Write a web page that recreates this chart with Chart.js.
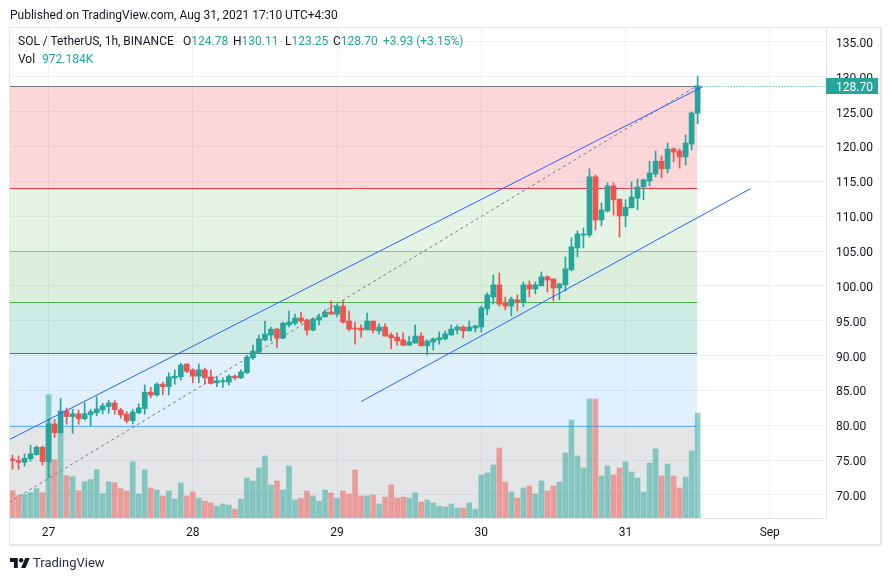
<!DOCTYPE html>
<html>
<head>
<meta charset="utf-8">
<script src="https://cdn.jsdelivr.net/npm/chart.js@4.4.0/dist/chart.umd.min.js"></script>
<style>
  body { margin: 0; width: 892px; height: 581px; background: #fff; position: relative; overflow: hidden;
         font-family: Roboto, sans-serif; color: #131722; }
  #frame { position: absolute; left: 9px; top: 27px; width: 873px; height: 519px; box-sizing: border-box;
           border-style: solid; border-color: #e6e7ec; border-width: 1px 2px 2px 1px; }
  canvas { position: absolute; left: 0; top: 0; }
  .t { position: absolute; font-size: 12px; line-height: 14px; white-space: pre; }
  .v { color: #26a69a; }
  #logo { position: absolute; left: 10px; top: 556px; font-size: 13px; line-height: 14px; color: #2a2e39; }
  #logo svg { position: absolute; left: 0; top: 2px; }
  #logo span { position: absolute; left: 23px; top: 0; white-space: pre; }
</style>
</head>
<body>
<div id="frame"></div>
<canvas id="chart" width="892" height="581"></canvas>
<div class="t" style="left:10px; top:8px">Published on TradingView.com, Aug 31, 2021 17:10 UTC+4:30</div>
<div class="t" style="left:18px; top:34px">SOL / TetherUS, 1h, BINANCE</div>
<div class="t" style="left:183px; top:34px">O<span class="v">124.78</span></div>
<div class="t" style="left:233px; top:34px">H<span class="v">130.11</span></div>
<div class="t" style="left:285px; top:34px">L<span class="v">123.25</span></div>
<div class="t" style="left:333px; top:34px">C<span class="v">128.70</span></div>
<div class="t v" style="left:383px; top:34px">+3.93 (+3.15%)</div>
<div class="t" style="left:18px; top:52px">Vol</div>
<div class="t v" style="left:42px; top:52px">972.184K</div>
<div id="logo">
  <svg width="20" height="10" viewBox="0 4 36 18"><path fill="#131722" d="M14 22H7V11H0V4h14v18zM28 22h-8l7.5-18h8L28 22z"/><circle fill="#131722" cx="20" cy="8" r="4"/></svg>
  <span>TradingView</span>
</div>
<script>
// SOL/USDT 1h, Aug 26 18:00 -> Aug 31 12:00
const opens = [75.15,74.95,74.7,75.2,75.8,76.85,74.8,80.2,78.95,82.05,
  81.25,81.65,80.95,81.55,81.8,82.2,82.7,83.2,82.2,81.6,
  80.65,81.8,82.4,84.75,84.35,85.9,85.55,86.8,86.95,88.8,
  87.95,87.05,87.95,86.95,86.1,86.25,86.2,87.05,86.8,87.55,
  89.65,90.5,92.25,92.95,93.8,92.5,94.4,94.65,95.4,95.1,
  93.65,95.1,95.55,96.25,95.95,97.1,94.95,93.95,93.95,93.7,
  94.95,93.55,94.1,92.95,92.65,92.25,91.5,91.8,92.8,91.4,
  91.95,92.25,92.4,92.95,93.7,94.1,93.55,93.95,94.1,96.7,
  98.4,100.15,97.55,97.1,98.0,97.7,100.15,99.55,100.0,101.3,
  101.0,99.7,100.15,102.3,105.45,107.3,107.3,115.65,109.45,110.75,
  114.35,112.45,110.05,111.2,112.6,114.2,115.05,116.05,117.9,116.8,
  119.65,119.35,118.5,120.35,124.78];
const highs = [75.7,75.6,75.9,77.15,77.05,77.05,80.95,80.85,83.85,82.45,
  82.3,82.2,83.25,82.3,84.1,83.15,83.6,83.55,82.45,81.95,
  82.3,83.05,85.8,85.45,86.1,86.2,87.55,87.95,88.9,88.8,
  88.1,88.8,88.2,87.95,87.05,86.8,87.25,87.25,87.95,90.05,
  91.5,92.95,94.95,94.1,93.95,94.8,96.4,95.95,96.25,95.25,
  95.4,95.95,96.55,97.85,97.4,97.85,96.4,94.8,94.4,96.1,
  94.95,94.55,94.55,93.25,93.25,93.25,92.8,94.4,93.25,92.25,
  92.55,93.4,93.55,94.4,94.4,94.25,94.95,94.4,97.1,99.0,
  101.55,101.85,98.4,98.4,98.7,100.55,100.7,100.55,102.0,101.45,
  101.0,100.4,104.15,106.9,107.9,108.3,116.8,115.9,111.9,114.8,
  114.8,112.45,112.35,114.9,115.35,115.35,117.9,119.35,118.65,120.5,
  119.8,119.65,121.65,124.95,130.11];
const lows = [73.7,73.7,74.15,74.85,75.7,74.3,72.5,78.25,78.85,80.15,
  78.85,80.15,80.75,79.9,81.35,81.6,81.7,81.6,81.0,80.35,
  80.2,81.6,81.6,83.95,84.2,84.35,84.35,85.9,86.5,87.55,
  86.1,86.1,85.9,85.9,85.55,85.45,85.75,86.5,86.7,87.45,
  89.45,90.3,92.15,92.1,91.1,92.4,94.1,94.4,94.65,92.95,
  93.55,94.4,95.55,95.95,95.55,94.65,93.55,91.65,92.65,93.65,
  93.25,93.1,92.8,90.95,91.5,91.4,91.5,91.8,91.4,90.1,
  90.8,91.65,92.25,92.95,93.1,92.55,93.55,93.4,93.4,95.85,
  97.4,97.1,96.55,95.7,96.4,97.0,98.4,98.85,100.0,99.15,
  97.85,98.0,99.25,102.15,104.15,105.45,107.0,108.0,108.6,110.6,
  110.15,107.0,108.45,111.2,110.9,112.35,114.35,115.65,115.5,116.2,
  117.8,116.9,117.35,119.5,123.25];
const closes = [74.95,74.7,75.25,75.9,76.85,74.8,80.2,78.95,82.05,81.25,
  81.65,80.95,81.65,81.95,82.35,82.8,83.2,82.25,81.5,80.65,
  81.9,82.5,84.75,84.35,85.9,85.55,86.95,87.05,88.65,87.75,
  87.05,87.95,86.8,86.0,86.4,86.4,87.05,86.8,87.65,89.8,
  90.65,92.4,93.1,93.8,92.5,94.65,94.8,95.4,94.95,93.65,
  95.25,95.55,96.25,95.95,97.1,94.8,93.8,93.8,93.65,94.95,
  93.65,94.1,92.8,92.55,92.1,91.5,91.95,92.8,91.4,92.1,
  92.4,92.55,93.1,93.8,94.1,93.55,94.1,94.25,96.85,98.7,
  100.15,97.4,97.1,98.1,97.7,100.15,99.55,100.15,101.3,100.85,
  99.7,100.3,102.45,105.6,107.45,107.45,115.65,109.45,110.9,114.35,
  112.35,110.05,111.3,112.75,114.2,115.2,116.2,117.9,116.8,119.65,
  119.2,118.5,120.5,124.8,128.70];
// volume in thousands
const volumes = [253,207,216,235,272,235,1142,540,793,392,
  383,253,336,355,448,225,336,327,272,250,
  519,222,445,278,259,204,250,176,324,204,
  241,185,157,139,111,130,120,83,176,370,
  343,463,574,306,343,259,482,167,185,250,
  204,157,259,232,185,250,222,445,204,204,
  213,130,194,306,185,194,185,232,148,167,
  139,111,102,130,93,93,139,83,398,417,
  491,648,333,241,185,278,296,222,343,250,
  296,333,602,908,574,463,1102,1102,389,482,
  398,463,519,426,370,241,509,639,389,500,
  389,278,380,620,972.184];

const dayTicks = [6, 30, 54, 78, 102, 126];
const dayLabels = ['27', '28', '29', '30', '31', 'Sep'];
const priceTicks = [70, 75, 80, 85, 90, 95, 100, 105, 110, 115, 120, 125, 130, 135];

// fib retracement 0 -> 1, drawn from bar -4.9 to bar 113.9
const fibLevels = [128.7, 114.07, 105.02, 97.7, 90.38, 79.97, 66.7];
const fibColors = ['#787b86', '#f23645', '#81c784', '#4caf50', '#089981', '#64b5f6', '#787b86'];
const fibStart = -4.9, fibEnd = 113.9;

// trend lines: [bar, price]
const fibTrend = [[-4.9, 66.7], [113.9, 128.7]];
const upperLine = [[-0.42, 78.0], [114.9, 128.6]];
const lowerLine = [[58.0, 83.4], [122.8, 113.95]];

const UP = '#26a69a', DOWN = '#ef5350';
const idx = closes.map((c, i) => i);
const isUp = idx.map(i => closes[i] >= opens[i]);
const candleCol = isUp.map(u => u ? UP : DOWN);
const volCol = isUp.map(u => u ? 'rgba(38,166,154,0.5)' : 'rgba(239,83,80,0.5)');
const pts = arr => arr.map(p => ({x: p[0], y: p[1]}));

const fibPlugin = {
  id: 'fib',
  beforeDatasetsDraw(chart) {
    const {ctx, chartArea: a, scales: {x, y}} = chart;
    const x1 = Math.max(x.getPixelForValue(fibStart), a.left);
    const x2 = Math.round(x.getPixelForValue(fibEnd));
    ctx.save();
    ctx.beginPath();
    ctx.rect(a.left, a.top, a.width, a.height);
    ctx.clip();
    for (let k = 0; k < fibLevels.length - 1; k++) {
      const y1 = y.getPixelForValue(fibLevels[k]);
      const y2 = y.getPixelForValue(fibLevels[k + 1]);
      ctx.globalAlpha = 0.2;
      ctx.fillStyle = fibColors[k + 1];
      ctx.fillRect(x1, y1, x2 - x1, y2 - y1);
    }
    ctx.globalAlpha = 1;
    ctx.lineWidth = 1;
    fibLevels.forEach((lv, k) => {
      const py = Math.round(y.getPixelForValue(lv)) + 0.5;
      ctx.strokeStyle = fibColors[k];
      ctx.beginPath();
      ctx.moveTo(x1, py);
      ctx.lineTo(x2, py);
      ctx.stroke();
    });
    ctx.restore();
  }
};

const pricePlugin = {
  id: 'priceTag',
  afterDraw(chart) {
    const {ctx, chartArea: a, scales: {x, y}} = chart;
    const last = closes.length - 1;
    const py = Math.round(y.getPixelForValue(closes[last])) + 0.5;
    ctx.save();
    ctx.strokeStyle = UP;
    ctx.lineWidth = 1;
    ctx.setLineDash([1, 2]);
    ctx.beginPath();
    ctx.moveTo(x.getPixelForValue(last) + 3, py);
    ctx.lineTo(a.right, py);
    ctx.stroke();
    ctx.setLineDash([]);
    ctx.fillStyle = UP;
    ctx.fillRect(a.right, py - 8.5, 52, 16);
    ctx.fillStyle = '#fff';
    ctx.font = '12px Roboto';
    ctx.textBaseline = 'middle';
    ctx.fillText(closes[last].toFixed(2), a.right + 10, py + 1);
    ctx.restore();
  }
};

Chart.defaults.font.family = 'Roboto, sans-serif';
Chart.defaults.font.size = 12;
Chart.defaults.color = '#131722';

new Chart(document.getElementById('chart'), {
  type: 'bar',
  data: {
    datasets: [
      { type: 'line', data: pts(fibTrend), borderColor: '#787b86', borderWidth: 1, borderDash: [3, 3],
        pointRadius: 0, order: 1 },
      { type: 'line', data: pts(upperLine), borderColor: '#2962ff', borderWidth: 1, pointRadius: 0, order: 0 },
      { type: 'line', data: pts(lowerLine), borderColor: '#2962ff', borderWidth: 1, pointRadius: 0, order: 0 },
      { data: idx.map(i => ({x: i, y: [opens[i], closes[i]]})), backgroundColor: candleCol,
        barThickness: 5, minBarLength: 1, grouped: false, order: 2 },
      { data: idx.map(i => ({x: i, y: [lows[i], highs[i]]})), backgroundColor: candleCol,
        barThickness: 1, grouped: false, order: 3 },
      { data: idx.map(i => ({x: i, y: volumes[i]})), backgroundColor: volCol, yAxisID: 'yv',
        barThickness: 5, grouped: false, order: 5 }
    ]
  },
  options: {
    responsive: false,
    animation: false,
    events: [],
    layout: { padding: { left: 10, top: 28, right: 10, bottom: 35 } },
    plugins: { legend: { display: false }, tooltip: { enabled: false } },
    scales: {
      x: {
        type: 'linear', min: -0.42, max: 135.36, offset: false,
        afterBuildTicks: s => { s.ticks = dayTicks.map(v => ({value: v})); },
        afterFit: s => { s.height = 28; },
        ticks: { callback: (v, k) => dayLabels[k], padding: 8, maxRotation: 0, autoSkip: false },
        grid: { color: '#eef0f4', drawTicks: false, offset: false },
        border: { color: '#e0e3eb' }
      },
      y: {
        position: 'right', min: 66.7, max: 137.0,
        afterBuildTicks: s => { s.ticks = priceTicks.map(v => ({value: v})); },
        afterFit: s => { s.width = 56; },
        ticks: { callback: v => v.toFixed(2), padding: 10, crossAlign: 'near', labelOffset: 2 },
        grid: { color: '#eef0f4', drawTicks: false },
        border: { color: '#e0e3eb' }
      },
      yv: { display: false, min: 0, max: 4537 }
    }
  },
  plugins: [fibPlugin, pricePlugin]
});
</script>
</body>
</html>
